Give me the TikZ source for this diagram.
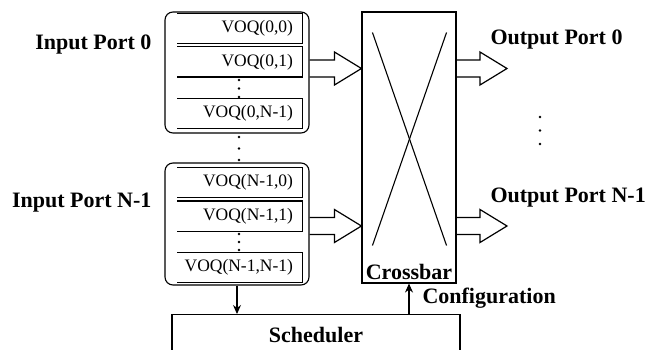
\documentclass[tikz,border=0pt]{standalone}
\usepackage{fontspec}
\setmainfont{Liberation Serif}
\usetikzlibrary{calc,arrows.meta}

% hollow block arrow from #1 (open end) to #2 (tip)
\newcommand{\fatarrow}[2]{%
  \draw[fat] ($(#1)+(0,-8.5)$) -- ($(#2)+(-27,-8.5)$) -- ($(#2)+(-27,-16.5)$)
    -- (#2) -- ($(#2)+(-27,16.5)$) -- ($(#2)+(-27,8.5)$) -- ($(#1)+(0,8.5)$);}

\begin{document}
\begin{tikzpicture}[
    x=1pt, y=-1pt,
    >=Stealth,
    line width=1.1pt,
    port/.style={
      rectangle, rounded corners=8pt, draw,
      minimum width=144pt, minimum height=121pt, inner sep=0pt,
    },
    voq/.style={
      rectangle, minimum height=29pt, inner xsep=4pt, inner ysep=0pt,
      text width=116pt, align=right,
      execute at end node={\hspace*{5pt}},
      font=\fontsize{17.5}{20}\selectfont,
    },
    xbar/.style={
      rectangle, draw, minimum width=94pt, minimum height=271pt,
    },
    sched/.style={
      rectangle, draw, minimum width=288pt, minimum height=40pt,
      font=\fontsize{22}{26}\selectfont\bfseries,
    },
    lab/.style={font=\fontsize{22}{26}\selectfont\bfseries, inner sep=1pt},
    arr/.style={->, >={Stealth[length=9pt,width=8pt]}},
    fat/.style={line width=1.2pt, line join=miter},
  ]
  \useasboundingbox (0,0) rectangle (648,350);
  \clip (0,0) rectangle (648,350);

  % ---- Input ports ----
  \node[port] (in0) at (237, 72.5) {};
  \node[port, minimum height=122pt] (inN) at (237, 224) {};
  \node[lab, anchor=east] (lin0) at (153, 45)  {Input Port 0};
  \node[lab, anchor=east] (linN) at (153, 203) {Input Port N-1};

  % ---- VOQs ----
  \node[voq] (q00) at (240, 28.5)  {VOQ(0,0)};
  \node[voq] (q01) at (240, 62)    {VOQ(0,1)};
  \node[voq] (q0N) at (240, 113.5) {VOQ(0,N-1)};
  \node[voq] (qN0) at (240, 182.5) {VOQ(N-1,0)};
  \node[voq] (qN1) at (240, 216)   {VOQ(N-1,1)};
  \node[voq] (qNN) at (240, 267.5) {VOQ(N-1,N-1)};
  \foreach \q in {q00,q01,q0N,qN0,qN1,qNN}
    \draw (\q.north west) -- (\q.north east) -- (\q.south east) -- (\q.south west);

  % vertical dots
  \foreach \y in {80,88.5,97,137,148.5,160,234,242,250}
    \fill (239,\y) circle (1.3);
  \foreach \y in {117,130.5,144}
    \fill (540,\y) circle (1.3);

  % ---- Crossbar ----
  \node[xbar] (xb) at (409, 147.5) {};
  \draw ($(xb.north west)+(11,21)$) -- ($(xb.south east)+(-10,-38)$);
  \draw ($(xb.north east)+(-10,21)$) -- ($(xb.south west)+(11,-38)$);
  \node[lab, anchor=south, inner sep=3pt] (xblab) at (xb.south) {Crossbar};

  % ---- Block arrows ----
  \coordinate (a0) at ([yshift=4pt]in0.east);
  \coordinate (aN) at ([yshift=-2pt]inN.east);
  \fatarrow{a0}{a0 -| xb.west}
  \fatarrow{aN}{aN -| xb.west}

  \coordinate (o0) at (507, 68.5);
  \coordinate (oN) at (507, 226);
  \fatarrow{o0 -| xb.east}{o0}
  \fatarrow{oN -| xb.east}{oN}
  \node[lab, anchor=west] (lout0) at (489, 40)  {Output Port 0};
  \node[lab, anchor=west] (loutN) at (489, 198) {Output Port N-1};

  % ---- Scheduler ----
  \node[sched, anchor=north] (sch) at (316, 314) {Scheduler};
  \draw[arr] (inN.south) -- (inN.south |- sch.north);
  \draw[arr] (sch.north -| xb.south) -- (xb.south);
  \node[lab, anchor=west] (conf) at (421, 298) {Configuration};

\end{tikzpicture}
\end{document}
